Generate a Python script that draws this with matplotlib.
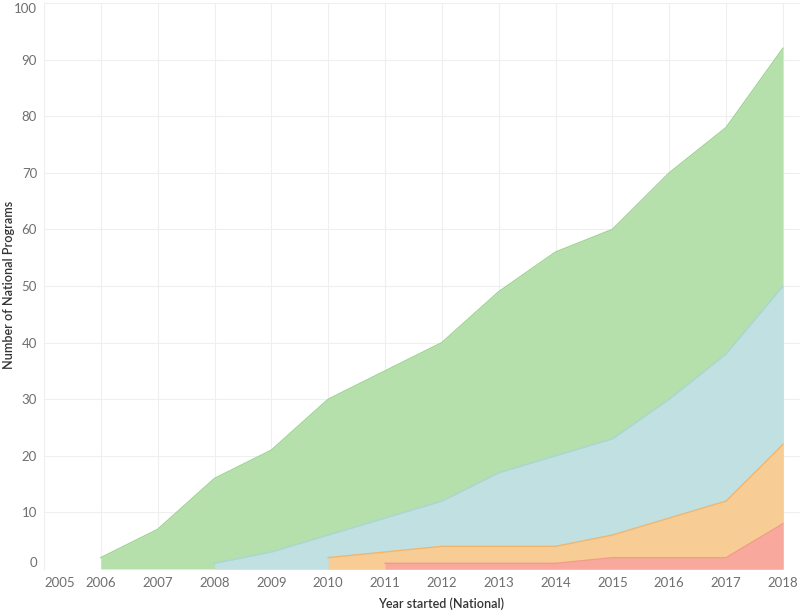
import matplotlib.pyplot as plt
import numpy as np

plt.rcParams['font.family'] = ['Lato', 'DejaVu Sans']

# yearly counts per category (stacked, bottom to top: red, orange, blue, green)
years = np.arange(2005, 2019)
red = [np.nan]*6 + [1, 1, 1, 1, 2, 2, 2, 8]
orange = [np.nan]*5 + [2, 2, 3, 3, 3, 4, 7, 10, 14]
blue = [np.nan]*3 + [1, 3, 4, 6, 8, 13, 16, 17, 21, 26, 28]
green = [np.nan] + [2, 7, 15, 18, 24, 26, 28, 32, 36, 37, 40, 40, 42]

layers = [
    (red, '#f8a89d', '#f29a8c'),
    (orange, '#f8cd95', '#f3b56b'),
    (blue, '#c0e0e1', '#a9d6d6'),
    (green, '#b5dfab', '#9fd592'),
]

# cumulative tops
tops = []
acc = np.zeros(len(years))
for vals, _, _ in layers:
    v = np.array(vals, dtype=float)
    acc = acc + np.nan_to_num(v)
    top = np.where(np.isnan(v), np.nan, acc)
    tops.append(top)

fig = plt.figure(figsize=(8, 6.12), dpi=100)
ax = fig.add_axes([0.055, 0.0703, 0.945, 0.9248])

# draw back to front so lower layers paint over upper ones
for (vals, fc, ec), top in reversed(list(zip(layers, tops))):
    m = ~np.isnan(top)
    ax.fill_between(years[m], 0, top[m], color=fc, lw=0, zorder=2)
    ax.plot(years[m], top[m], color=ec, lw=1, zorder=3)

ax.set_xlim(2005, 2018.3)
ax.set_ylim(0, 100)
ax.set_xticks(years)
ax.set_yticks(np.arange(0, 101, 10))
ax.grid(True, color='#efefef', lw=0.8, zorder=0)
ax.set_axisbelow(True)
for s in ['top', 'right', 'bottom']:
    ax.spines[s].set_visible(False)
ax.spines['left'].set_color('#eeeeee')
ax.tick_params(length=0, labelsize=9.5, labelcolor='#6f6f6f')
ax.tick_params(axis='x', pad=6)
ax.tick_params(axis='y', pad=5)

xl = ax.get_xticklabels()
xl[0].set_ha('left')
yl = ax.get_yticklabels()
yl[0].set_va('bottom')
yl[-1].set_va('top')

fig.text(0.551, 0.004, 'Year started (National)', ha='center', va='bottom',
         fontsize=9, color='#333333', fontweight='semibold')
fig.text(0.004, 0.535, 'Number of National Programs', rotation=90, ha='left',
         va='center', fontsize=9, color='#333333', fontweight='semibold')

fig.savefig('out.png', dpi=100)
